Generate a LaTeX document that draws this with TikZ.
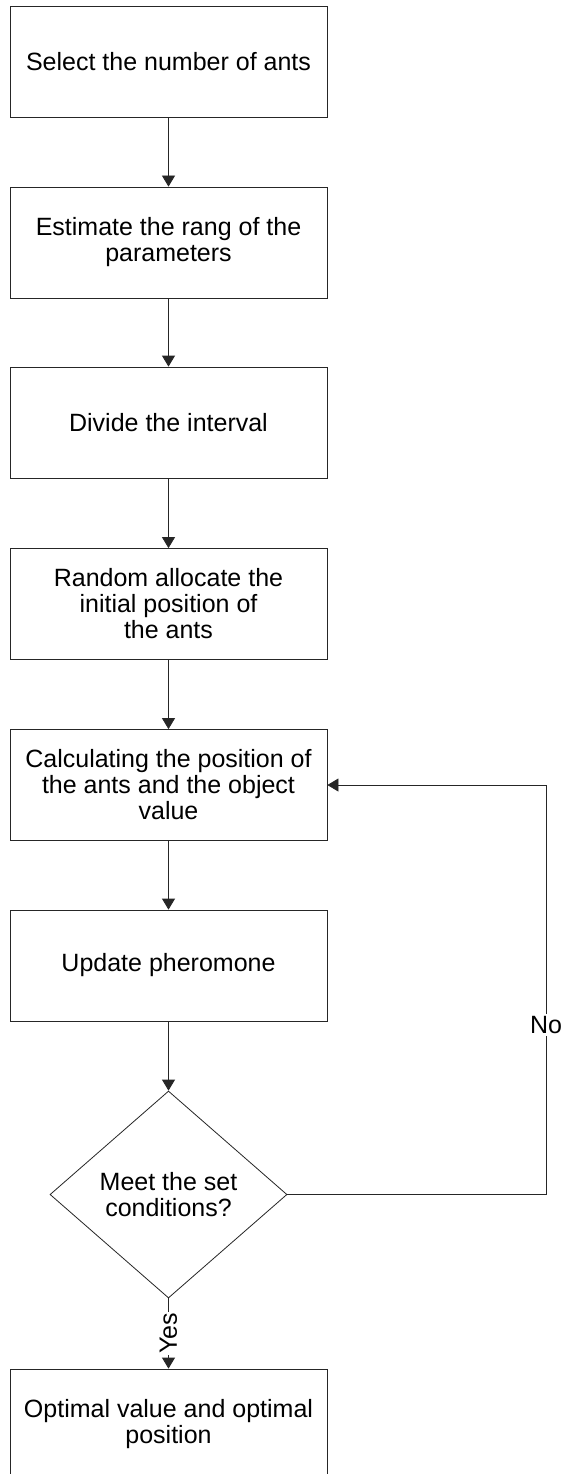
\documentclass[tikz,border=0pt]{standalone}
\usepackage{fontspec}
\setmainfont{Liberation Sans}
\usetikzlibrary{shapes.geometric,arrows.meta}
\begin{document}
\begin{tikzpicture}[x=1pt,y=-1pt,
  txt/.style={font=\fontsize{25}{26}\selectfont},
  box/.style={txt, draw=black!85, line width=0.8pt, minimum width=317pt, minimum height=111pt, inner sep=0pt, align=center},
  dec/.style={txt, draw=black!85, line width=0.8pt, shape=diamond, minimum width=237pt, minimum height=207pt, inner sep=0pt, align=center},
  arr/.style={draw=black!85, line width=0.8pt, -{Triangle[width=13pt,length=11pt]}},
  lbl/.style={txt, fill=white, inner sep=2pt}]
\clip (0,0) rectangle (562,1474);
\fill[white] (0,0) rectangle (562,1474);
\node[box] (b1) at (168.5,61.5) {Select the number of ants};
\node[box] (b2) at (168.5,242.5) {Estimate the rang of the\\parameters};
\node[box] (b3) at (168.5,422.5) {Divide the interval};
\node[box] (b4) at (168.5,604) {Random allocate the\\initial position of\\the ants};
\node[box] (b5) at (168.5,785) {Calculating the position of\\the ants and the object\\value};
\node[box] (b6) at (168.5,965.5) {Update pheromone};
\node[dec] (d) at (168.5,1194.5) {Meet the set\\conditions?};
\node[box] (b7) at (168.5,1424.5) {Optimal value and optimal\\position};
\coordinate (r) at (546,785);
\draw[arr] (b1) -- (b2);
\draw[arr] (b2) -- (b3);
\draw[arr] (b3) -- (b4);
\draw[arr] (b4) -- (b5);
\draw[arr] (b5) -- (b6);
\draw[arr] (b6) -- (d);
\draw[arr] (d.east) -| node[lbl, pos=0.707] {No} (r) -- (b5.east);
\draw[arr] (d.south) -- node[lbl, rotate=90, inner sep=1pt] {Yes} (b7.north);
\end{tikzpicture}
\end{document}
